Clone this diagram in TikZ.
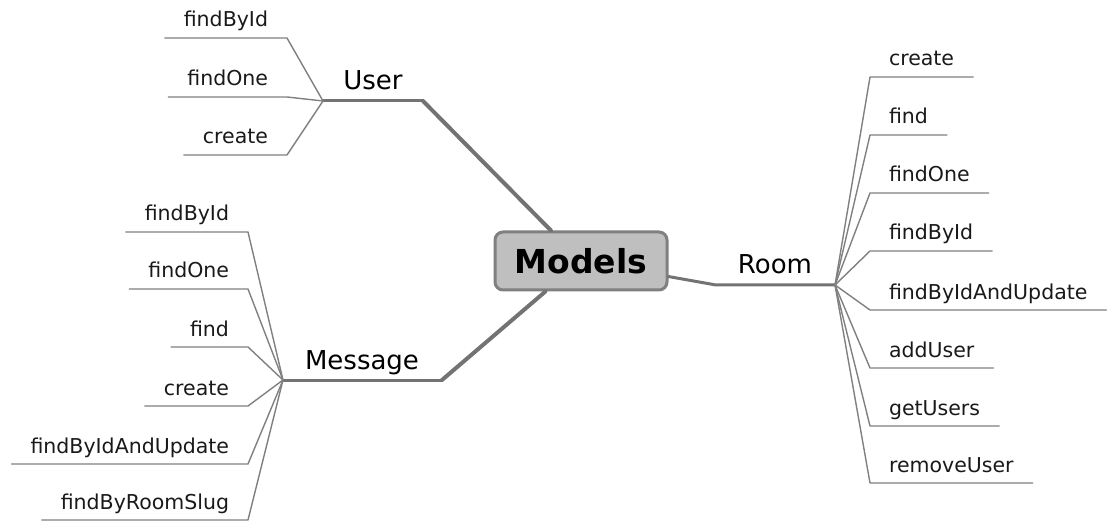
\documentclass[tikz,border=0pt]{standalone}
\usepackage{fontspec}
\setmainfont{DejaVu Sans}
\begin{document}
\begin{tikzpicture}[x=1pt,y=-1pt,
  line join=round, line cap=round,
  rootbox/.style={draw=black!50, line width=3pt, fill=black!25, rounded corners=8pt,
    minimum width=172pt, minimum height=58pt, inner sep=0pt,
    font=\fontsize{33}{38}\bfseries\selectfont, text=black},
  branch/.style={font=\fontsize{26}{30}\selectfont, text=black, anchor=south,
    inner xsep=0pt, inner ysep=11pt, text depth=0pt, outer sep=0pt},
  leaf/.style={font=\fontsize{20.5}{24}\selectfont, text=black!90,
    inner xsep=19pt, inner ysep=11pt, text depth=0pt, outer sep=0pt},
  leafL/.style={leaf, anchor=south east},
  leafR/.style={leaf, anchor=south west},
  mainline/.style={draw=black!55, line width=4pt},
  midline/.style={draw=black!55, line width=3pt},
  leafline/.style={draw=black!50, line width=1.4pt}]
\useasboundingbox (0,0) rectangle (1108,521);

% central topic
\node[rootbox] (models) at (581,261) {Models};

% branch hubs and bends
\coordinate (userHub)  at (323,101);
\coordinate (userBend) at (423,101);
\coordinate (msgHub)   at (283,380);
\coordinate (msgBend)  at (442,380);
\coordinate (roomBend) at (716,285);
\coordinate (roomHub)  at (835,285);

\node[branch] (user) at (373,101) {User};
\node[branch] (message) at (362,380) {Message};
\node[branch] (room) at (775,285) {Room};

% branches from the central topic
\draw[mainline] (models) -- (userBend);
\draw[midline] (userBend) -- (userHub);
\draw[mainline] (models) -- (msgBend);
\draw[midline] (msgBend) -- (msgHub);
\draw[midline] (models) -- (roomBend) -- (roomHub);

% User methods
\node[leafL] (u1) at (287,38)  {findById};
\node[leafL] (u2) at (287,97)  {findOne};
\node[leafL] (u3) at (287,155) {create};
\foreach \n in {u1,u2,u3}
  \draw[leafline] (userHub) -- (\n.south east) -- (\n.south west);

% Message methods
\node[leafL] (m1) at (248,232) {findById};
\node[leafL] (m2) at (248,289) {findOne};
\node[leafL] (m3) at (248,347) {find};
\node[leafL] (m4) at (248,406) {create};
\node[leafL] (m5) at (248,464) {findByIdAndUpdate};
\node[leafL] (m6) at (248,520) {findByRoomSlug};
\foreach \n in {m1,m2,m3,m4,m5,m6}
  \draw[leafline] (msgHub) -- (\n.south east) -- (\n.south west);

% Room methods
\node[leafR] (r1) at (870,77)  {create};
\node[leafR] (r2) at (870,135) {find};
\node[leafR] (r3) at (870,193) {findOne};
\node[leafR] (r4) at (870,251) {findById};
\node[leafR] (r5) at (870,310) {findByIdAndUpdate};
\node[leafR] (r6) at (870,368) {addUser};
\node[leafR] (r7) at (870,426) {getUsers};
\node[leafR] (r8) at (870,483) {removeUser};
\foreach \n in {r1,r2,r3,r4,r5,r6,r7,r8}
  \draw[leafline] (roomHub) -- (\n.south west) -- (\n.south east);
\end{tikzpicture}
\end{document}
